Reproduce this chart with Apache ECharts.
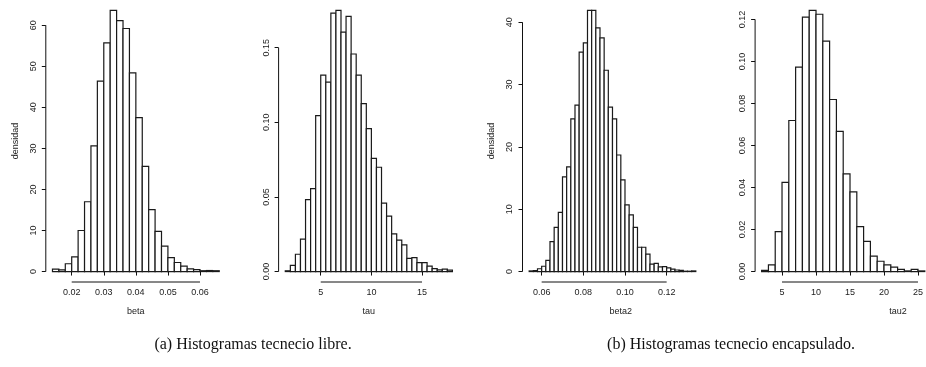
<!DOCTYPE html>
<html>
<head>
<meta charset="utf-8">
<script src="https://cdn.jsdelivr.net/npm/echarts@6/dist/echarts.min.js"></script>
<style>
html,body{margin:0;padding:0;background:#fff;}
#chart{width:926px;height:367px;}
</style>
</head>
<body>
<div id="chart"></div>
<script>
// ---- Panel (a) left: beta ----
const betaStart = 0.014;
const betaWidth = 0.002;
const betaDensity = [0.6, 0.4, 1.9, 3.6, 10.0, 17.0, 30.6, 46.4, 55.7, 63.6, 61.1, 59.2, 48.4, 37.5, 25.6, 15.1, 9.8, 6.2, 3.4, 2.2, 1.3, 0.65, 0.45, 0.2, 0.25, 0.2];
const betaXTicks = [0.02, 0.03, 0.04, 0.05, 0.06];
const betaYTicks = [0, 10, 20, 30, 40, 50, 60];

// ---- Panel (a) right: tau ----
const tauStart = 1.5;
const tauWidth = 0.5;
const tauDensity = [0.0005, 0.0042, 0.0116, 0.0217, 0.0482, 0.0556, 0.1045, 0.1317, 0.127, 0.1732, 0.175, 0.1605, 0.171, 0.1458, 0.1317, 0.1125, 0.0958, 0.0759, 0.0699, 0.0458, 0.0371, 0.0252, 0.021, 0.0179, 0.0089, 0.0094, 0.006, 0.006, 0.0036, 0.002, 0.0011, 0.0016, 0.0009];
const tauXTicks = [5, 10, 15];
const tauYTicks = [0, 0.05, 0.10, 0.15];

// ---- Panel (b) left: beta2 ----
const beta2Start = 0.054;
const beta2Width = 0.002;
const beta2Density = [0.1, 0.15, 0.45, 0.85, 1.8, 4.8, 7.1, 9.5, 15.2, 16.8, 24.5, 26.7, 35.2, 36.7, 41.9, 41.9, 39.1, 37.5, 32.3, 26.4, 24.5, 18.7, 14.7, 10.7, 9.1, 7.1, 3.9, 3.9, 2.8, 1.2, 1.3, 0.75, 0.8, 0.6, 0.4, 0.25, 0.2, 0.05, 0.05, 0.1];
const beta2XTicks = [0.06, 0.08, 0.10, 0.12];
const beta2YTicks = [0, 10, 20, 30, 40];

// ---- Panel (b) right: tau2 ----
const tau2Start = 2;
const tau2Width = 1;
const tau2Density = [0.0006, 0.0032, 0.019, 0.0425, 0.0719, 0.0973, 0.1211, 0.1243, 0.1225, 0.1097, 0.0819, 0.0667, 0.0465, 0.0379, 0.0214, 0.0144, 0.0073, 0.0049, 0.0032, 0.0021, 0.001, 0.0003, 0.001, 0.0003];
const tau2XTicks = [5, 10, 15, 20, 25];
const tau2YTicks = [0, 0.02, 0.04, 0.06, 0.08, 0.10, 0.12];

const captions = ['(a) Histogramas tecnecio libre.', '(b) Histogramas tecnecio encapsulado.'];

// layout (positions/styles only)
const panels = [
  {name: 'beta',  ylab: 'densidad', start: betaStart,  width: betaWidth,  dens: betaDensity,  xt: betaXTicks,  yt: betaYTicks,  xdec: 2, ydec: 0, left: 45.8,  gw: 180.1, xmin: 0.01192, xmax: 0.06808, namePad: 0},
  {name: 'tau',   ylab: '',         start: tauStart,   width: tauWidth,   dens: tauDensity,   xt: tauXTicks,   yt: tauYTicks,   xdec: 0, ydec: 2, left: 278.6, gw: 180.5, xmin: 0.84,    xmax: 18.66,   namePad: 0},
  {name: 'beta2', ylab: 'densidad', start: beta2Start, width: beta2Width, dens: beta2Density, xt: beta2XTicks, yt: beta2YTicks, xdec: 2, ydec: 0, left: 522.5, gw: 196.6, xmin: 0.0508,  xmax: 0.14518, namePad: 0},
  {name: 'tau2',  ylab: '',         start: tau2Start,  width: tau2Width,  dens: tau2Density,  xt: tau2XTicks,  yt: tau2YTicks,  xdec: 0, ydec: 2, left: 755.1, gw: 170.9, xmin: 1.04,    xmax: 25.57,   namePad: 119}
];

const FONT = 'Liberation Sans, Arial, Helvetica, sans-serif';
const grids = [], xAxes = [], yAxes = [], series = [];

panels.forEach((p, i) => {
  const maxD = Math.max.apply(null, p.dens);
  const ymin = -0.04 * maxD, ymax = 1.04 * maxD;
  grids.push({left: p.left, width: p.gw, top: 0, bottom: 85, containLabel: false});
  xAxes.push({
    type: 'value', gridIndex: i, min: p.xmin, max: p.xmax,
    name: p.name, nameLocation: 'middle', nameGap: 25,
    nameTextStyle: {fontFamily: FONT, fontSize: 9, color: '#222', padding: [0, 0, 0, p.namePad]},
    axisLine: {show: false},
    splitLine: {show: false},
    axisTick: {show: true, length: 4, lineStyle: {color: '#111', width: 1}, customValues: p.xt},
    axisLabel: {show: true, margin: 6, fontFamily: FONT, fontSize: 9, color: '#222', customValues: p.xt,
      formatter: v => Number(v).toFixed(p.xdec)}
  });
  yAxes.push({
    type: 'value', gridIndex: i, min: ymin, max: ymax,
    name: p.ylab, nameLocation: 'middle', nameGap: 26, nameRotate: 90,
    nameTextStyle: {fontFamily: FONT, fontSize: 9, color: '#222'},
    axisLine: {show: false},
    splitLine: {show: false},
    axisTick: {show: true, length: 4, lineStyle: {color: '#111', width: 1}, customValues: p.yt},
    axisLabel: {show: true, rotate: 90, margin: 8, fontFamily: FONT, fontSize: 9, color: '#222', customValues: p.yt,
      formatter: v => Number(v).toFixed(p.ydec)}
  });
  const data = p.dens.map((d, k) => [p.start + k * p.width, p.start + (k + 1) * p.width, d]);
  series.push({
    type: 'custom', xAxisIndex: i, yAxisIndex: i, data: data, clip: false, animation: false,
    renderItem: (params, api) => {
      const a = api.coord([api.value(0), 0]);
      const b = api.coord([api.value(1), api.value(2)]);
      return {type: 'rect', shape: {x: a[0], y: b[1], width: b[0] - a[0], height: a[1] - b[1]},
        style: {fill: '#fff', stroke: '#1a1a1a', lineWidth: 1.2}};
    }
  });
  // R-style axis lines spanning first to last tick
  series.push({
    type: 'custom', xAxisIndex: i, yAxisIndex: i, data: [[0]], clip: false, animation: false, silent: true,
    renderItem: (params, api) => {
      const x0 = api.coord([p.xt[0], ymin]);
      const x1 = api.coord([p.xt[p.xt.length - 1], ymin]);
      const y0 = api.coord([p.xmin, p.yt[0]]);
      const y1 = api.coord([p.xmin, p.yt[p.yt.length - 1]]);
      return {type: 'group', children: [
        {type: 'line', shape: {x1: x0[0], y1: x0[1], x2: x1[0], y2: x1[1]}, style: {stroke: '#111', lineWidth: 1}},
        {type: 'line', shape: {x1: y0[0], y1: y0[1], x2: y1[0], y2: y1[1]}, style: {stroke: '#111', lineWidth: 1}}
      ]};
    }
  });
});

const chart = echarts.init(document.getElementById('chart'), null, {renderer: 'canvas'});
chart.setOption({
  animation: false,
  backgroundColor: '#fff',
  grid: grids, xAxis: xAxes, yAxis: yAxes, series: series,
  graphic: [
    {type: 'text', x: 253, y: 345, style: {text: captions[0], textAlign: 'center', textVerticalAlign: 'middle', font: '16px "Liberation Serif", "DejaVu Serif", serif', fill: '#111'}},
    {type: 'text', x: 731, y: 345, style: {text: captions[1], textAlign: 'center', textVerticalAlign: 'middle', font: '16px "Liberation Serif", "DejaVu Serif", serif', fill: '#111'}}
  ]
});
</script>
</body>
</html>
